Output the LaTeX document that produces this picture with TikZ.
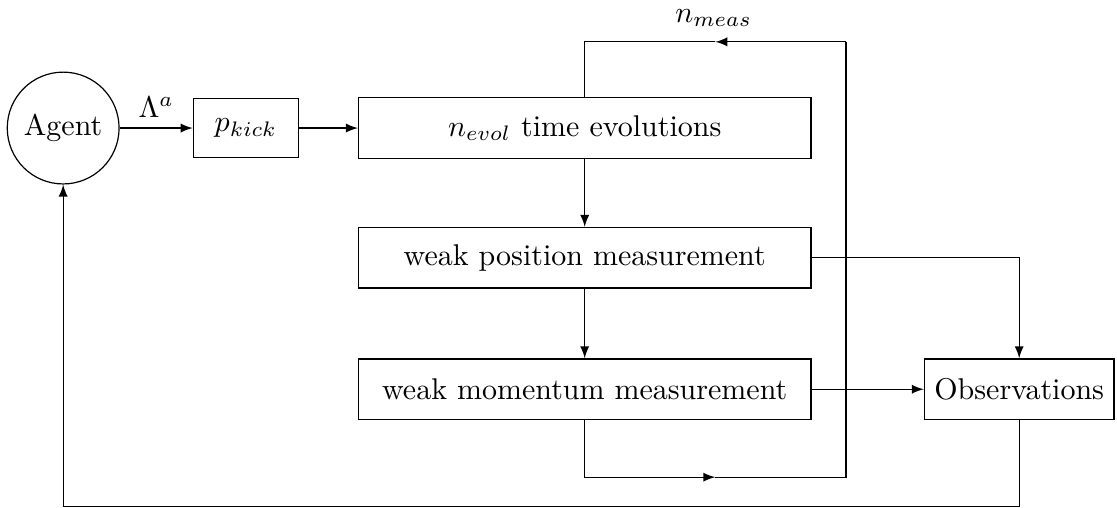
\documentclass[tikz,border=0pt]{standalone}
\usepackage{amsmath}
\usepackage{tikz}
\usetikzlibrary{positioning,arrows}

\begin{document}
\begin{tikzpicture}[
    box/.style={draw, rectangle, minimum width=5.3cm, minimum height=0.71cm},
    smallbox/.style={draw, rectangle, minimum width=1.23cm, minimum height=0.69cm},
    >=latex]
    \useasboundingbox (0,0) rectangle (13.086,-5.951);

    \node [draw, circle, minimum size=1.31cm, inner sep=1pt] (agent) at (0.74,-1.5) {Agent};
    \node [smallbox] (kick) at (2.88,-1.5) {$p_{kick}$};
    \node [box] (evol) at (6.85,-1.5) {$n_{evol}$ time evolutions};
    \node [box] (wpos) at (6.85,-3.02) {weak position measurement};
    \node [box] (wmom) at (6.85,-4.56) {weak momentum measurement};
    \node [draw, rectangle, minimum height=0.71cm] (obs) at (11.94,-4.56) {Observations};

    \coordinate (mb) at (8.38,-5.59);
    \coordinate (rb) at (9.91,-5.59);
    \coordinate (rt) at (9.91,-0.49);
    \coordinate (mt) at (8.38,-0.49);
    \coordinate (fb) at (6,-5.935);

    \draw [->] (agent) -- node [above] {$\Lambda^a$} (kick);
    \draw [->] (kick) -- (evol);
    \draw [->] (evol) -- (wpos);
    \draw [->] (wpos) -- (wmom);
    \draw [->] (wpos.east) -| (obs.north);
    \draw [->] (wmom) -- (obs);

    % repetition loop
    \draw [->] (wmom.south) |- (mb);
    \draw (mb) -- (rb) -- (rt);
    \draw [->] (rt) -- (mt);
    \draw (mt) -| (evol.north);

    % feedback to the agent
    \draw [->] (obs.south) |- (fb) -| (agent.south);
    \node at (8.36,-0.21) {$n_{meas}$};
\end{tikzpicture}
\end{document}
